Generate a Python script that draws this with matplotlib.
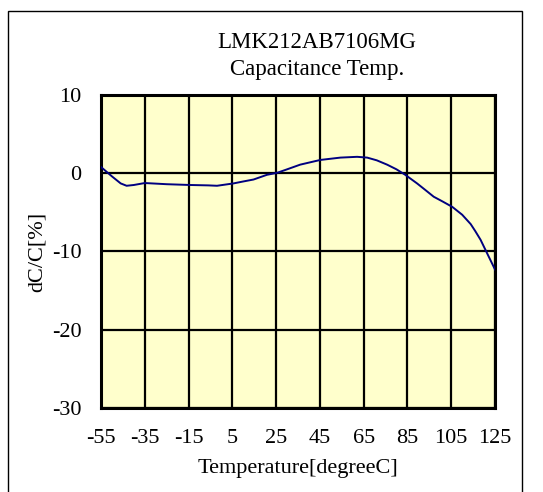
import matplotlib
matplotlib.use("Agg")
import matplotlib.pyplot as plt
from matplotlib.patches import Rectangle

temps = [-55, -50, -46, -43.3, -40, -35, -25, -14.3, -6, -2, 5.5, 10, 14.7, 20.8,
         25.4, 30, 36, 45.2, 54.4, 62, 66.6, 71, 75.7, 80, 84, 89.4, 93, 97,
         101, 105.5, 110, 113.9, 116, 118.4, 121, 125]
dcc = [0.8, -0.4, -1.3, -1.6, -1.5, -1.25, -1.4, -1.5, -1.55, -1.6, -1.3, -1.05,
       -0.8, -0.2, 0.05, 0.5, 1.1, 1.7, 2.0, 2.1, 2.0, 1.65, 1.1, 0.5, -0.2,
       -1.3, -2.1, -3.0, -3.6, -4.3, -5.3, -6.5, -7.4, -8.5, -10.0, -12.3]
xticks = [-55, -35, -15, 5, 25, 45, 65, 85, 105, 125]
yticks = [-30, -20, -10, 0, 10]

plt.rcParams['font.family'] = ['Liberation Serif']
plt.rcParams['axes.unicode_minus'] = False
W, H = 543, 492
fig = plt.figure(figsize=(W / 100, H / 100), dpi=100)
ax = fig.add_axes([101 / W, 1 - 408 / H, 394 / W, 313 / H])
ax.set_facecolor('#FFFFCC')

ax.plot(temps, dcc, color='#000080', lw=1.4, zorder=3)
ax.set_xlim(-55, 125)
ax.set_ylim(-30, 10)
ax.set_xticks(xticks)
ax.set_yticks(yticks)
ax.grid(True, color='black', lw=1.6, zorder=1)
ax.set_axisbelow(True)
for s in ax.spines.values():
    s.set_linewidth(2.2)
ax.tick_params(length=0, labelsize=16)
ax.tick_params(axis='x', pad=15)
ax.tick_params(axis='y', pad=14)

ax.set_xlabel('Temperature[degreeC]', fontsize=16, labelpad=8)
ax.set_ylabel('dC/C[%]', fontsize=16, labelpad=4)

fig.text(317 / W, 1 - 43 / H, 'LMK212AB7106MG', ha='center', va='center', fontsize=16.5)
fig.text(317 / W, 1 - 70 / H, 'Capacitance Temp.', ha='center', va='center', fontsize=16.5)

fig.patches.append(Rectangle((8 / W, -0.05), 514 / W, 1.05 - 11 / H,
                             transform=fig.transFigure, fill=False,
                             edgecolor='black', lw=1))

fig.savefig('out.png', dpi=100)
